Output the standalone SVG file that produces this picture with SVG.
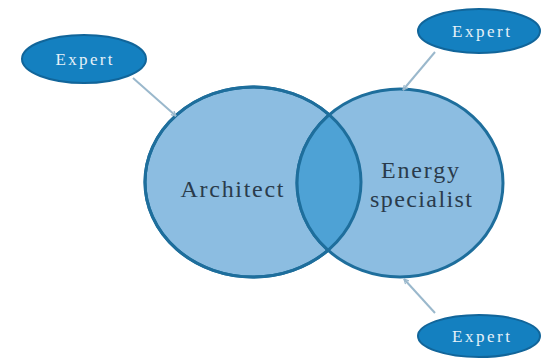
<svg xmlns="http://www.w3.org/2000/svg" width="541" height="359" viewBox="0 0 541 359">
<style>
.circle{fill:#8cbde1;stroke:#1e6e9c;stroke-width:3}
.edge{fill:none;stroke:#1e6e9c;stroke-width:3}
.lens{fill:#4ea2d5;stroke:#1e6e9c;stroke-width:3}
.expert{fill:#1480c0;stroke:#11659a;stroke-width:2}
.etext{font-family:"Liberation Serif",serif;font-size:17px;fill:#e6f1f8;text-anchor:middle}
.label{font-family:"Liberation Serif",serif;font-size:24px;fill:#2a3b4c;text-anchor:middle}
.conn{stroke:#9ab8cc;stroke-width:2;fill:none;marker-end:url(#arr)}
</style>
<defs>
<marker id="arr" viewBox="0 0 10 10" refX="9" refY="5" markerWidth="6" markerHeight="6" orient="auto" markerUnits="userSpaceOnUse">
<path d="M1,1 L9,5 L1,9" fill="none" stroke="#9ab8cc" stroke-width="2"/>
</marker>
<clipPath id="leftClip"><ellipse cx="253" cy="182" rx="108" ry="95"/></clipPath>
</defs>
<rect width="541" height="359" fill="#ffffff"/>
<g id="architect">
<ellipse class="circle" cx="253" cy="182" rx="108" ry="95"/>
<text class="label" x="232" y="197" textLength="103" lengthAdjust="spacing">Architect</text>
</g>
<g id="energy-specialist">
<ellipse class="circle" cx="400" cy="183" rx="103" ry="94"/>
<text class="label" x="420" y="178" textLength="78" lengthAdjust="spacing">Energy</text>
<text class="label" x="421" y="207" textLength="102" lengthAdjust="spacing">specialist</text>
</g>
<g id="overlap">
<ellipse class="lens" cx="400" cy="183" rx="103" ry="94" clip-path="url(#leftClip)"/>
<ellipse class="edge" cx="253" cy="182" rx="108" ry="95"/>
</g>
<g id="expert-top-left">
<ellipse class="expert" cx="84" cy="59" rx="62" ry="24"/>
<text class="etext" x="84" y="65" textLength="57" lengthAdjust="spacing">Expert</text>
</g>
<g id="expert-top-right">
<ellipse class="expert" cx="479" cy="31" rx="61" ry="22"/>
<text class="etext" x="481" y="37" textLength="58" lengthAdjust="spacing">Expert</text>
</g>
<g id="expert-bottom-right">
<ellipse class="expert" cx="479" cy="336" rx="61" ry="21"/>
<text class="etext" x="481" y="342" textLength="58" lengthAdjust="spacing">Expert</text>
</g>
<g id="connectors">
<line class="conn" x1="133" y1="78" x2="176" y2="116"/>
<line class="conn" x1="435" y1="52" x2="403" y2="90"/>
<line class="conn" x1="435" y1="313" x2="404" y2="279"/>
</g>
</svg>
